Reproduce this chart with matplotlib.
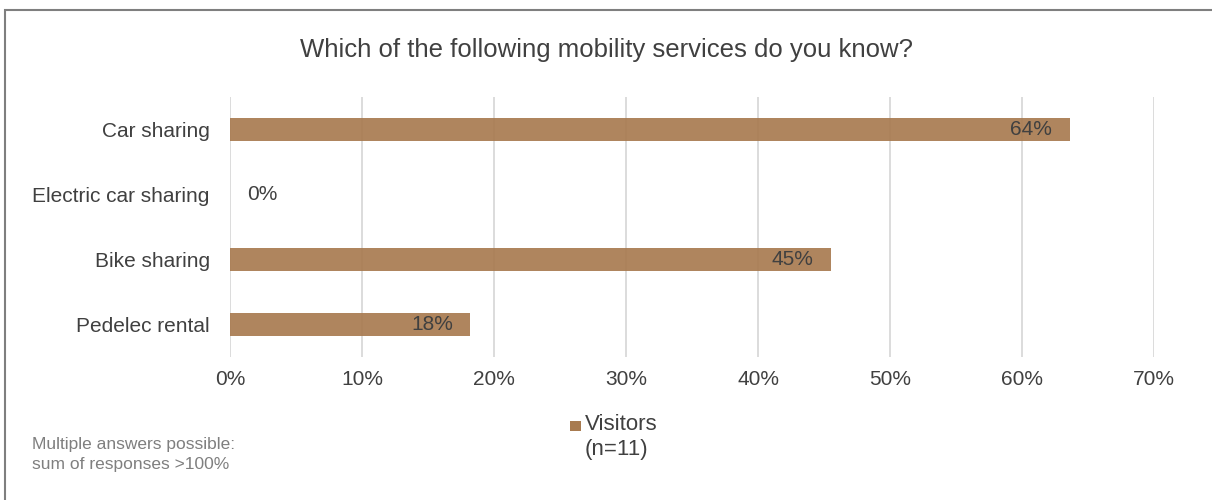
import matplotlib
matplotlib.use("Agg")
import matplotlib.pyplot as plt
from matplotlib.patches import Rectangle
from matplotlib.ticker import FuncFormatter

plt.rcParams['font.family'] = ['Liberation Sans', 'DejaVu Sans']

categories = ["Car sharing", "Electric car sharing", "Bike sharing", "Pedelec rental"]
visitors = [63.6, 0.0, 45.5, 18.2]
labels = ["64%", "0%", "45%", "18%"]
x_ticks = [0, 10, 20, 30, 40, 50, 60, 70]

title = "Which of the following mobility services do you know?"
note_lines = ["Multiple answers possible:", "sum of responses >100%"]

W, H = 1212, 500
fig = plt.figure(figsize=(W / 100, H / 100), dpi=100)
fig.patch.set_facecolor("white")

# outer frame (left and top edges visible)
fig.patches.append(Rectangle((5 / W, -0.05), 1.2, 1 - 10 / H + 0.05,
                             transform=fig.transFigure, fill=False,
                             edgecolor="#7f7f7f", linewidth=1.5))

left, right = 230 / W, 1154 / W
top, bottom = 97 / H, 357 / H
ax = fig.add_axes([left, 1 - bottom, right - left, bottom - top])

bar_color = "#A87B50"
text_color = "#404040"
ypos = list(range(len(categories)))
ax.barh(ypos, visitors, height=0.35, color=bar_color, alpha=0.92, zorder=2)

ax.set_xlim(0, 70)
ax.set_ylim(len(categories) - 0.5, -0.5)
ax.set_xticks(x_ticks)
ax.xaxis.set_major_formatter(FuncFormatter(lambda v, p: f"{v:.0f}%"))
ax.set_yticks(ypos)
ax.set_yticklabels(categories)
ax.tick_params(axis="both", length=0, labelsize=15, colors=text_color)
ax.tick_params(axis="x", pad=9.5)
ax.tick_params(axis="y", pad=14.5)
for s in ax.spines.values():
    s.set_visible(False)
ax.grid(axis="x", color="#d9d9d9", linewidth=1.3, zorder=1)
ax.set_axisbelow(True)

for y, v, lab in zip(ypos, visitors, labels):
    if v > 5:
        ax.text(v - 1.3, y, lab, ha="right", va="center", fontsize=15,
                color=text_color, zorder=3)
    else:
        ax.text(v + 1.3, y, lab, ha="left", va="center", fontsize=15,
                color=text_color, zorder=3)

fig.text(0.5, 1 - 50 / H, title, ha="center", va="center",
         fontsize=18.5, color=text_color)

# legend entry
fig.patches.append(Rectangle((570 / W, 1 - 431 / H), 11 / W, 10 / H,
                             transform=fig.transFigure, facecolor=bar_color,
                             edgecolor="none"))
fig.text(585 / W, 1 - 425 / H, "Visitors", ha="left", va="center",
         fontsize=16, color=text_color)
fig.text(585 / W, 1 - 450 / H, "(n=11)", ha="left", va="center",
         fontsize=16, color=text_color)

# footnote
for i, line in enumerate(note_lines):
    fig.text(32 / W, 1 - (445 + 19 * i) / H, line, ha="left", va="center",
             fontsize=12.5, color="#7f7f7f")

fig.savefig("out.png", dpi=100, facecolor="white")
